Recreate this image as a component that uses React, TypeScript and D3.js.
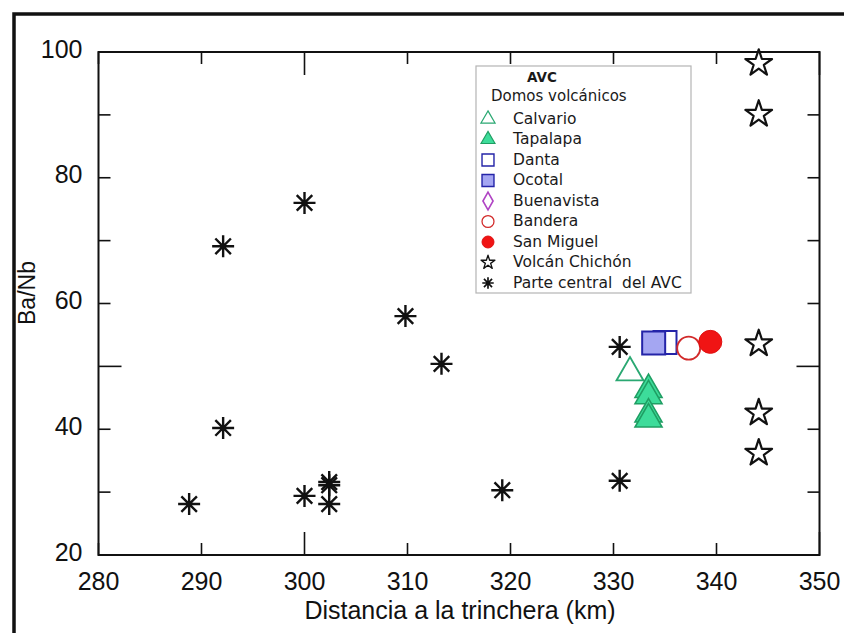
import React from "react";
import * as d3 from "d3";

// ---- data ----
const xTickLabels = [280, 290, 300, 310, 320, 330, 340, 350];
const yTickLabels = [20, 40, 60, 80, 100];

const centralX = [288.8, 292.1, 292.1, 300.0, 300.0, 302.4, 302.4, 302.4, 309.8, 313.3, 319.2, 330.6, 330.6];
const centralY = [28.1, 40.2, 69.1, 76.0, 29.4, 31.6, 31.1, 28.1, 58.0, 50.4, 30.3, 31.8, 53.1];

const chichonX = [344.1, 344.1, 344.1, 344.1, 344.1];
const chichonY = [98.2, 90.1, 53.6, 42.6, 36.2];

const calvarioX = [331.6];
const calvarioY = [49.0];
const tapalapaX = [333.4, 333.4, 333.4, 333.4];
const tapalapaY = [46.3, 45.3, 42.4, 41.6];
const dantaX = [335.0];
const dantaY = [53.8];
const ocotalX = [333.9];
const ocotalY = [53.7];
const buenavistaX: number[] = [];
const buenavistaY: number[] = [];
const banderaX = [337.3];
const banderaY = [52.9];
const sanMiguelX = [339.4];
const sanMiguelY = [53.9];

const legendLabels = [
  "Calvario",
  "Tapalapa",
  "Danta",
  "Ocotal",
  "Buenavista",
  "Bandera",
  "San Miguel",
  "Volcán Chichón",
  "Parte central  del AVC",
];

// ---- layout ----
const W = 844;
const H = 633;
const left = 98.5;
const right = 819.5;
const top = 52;
const bottom = 555;

const x = d3.scaleLinear().domain([280, 350]).range([left, right]);
const y = d3.scaleLinear().domain([20, 100]).range([bottom, top]);

const FONT = "'Liberation Sans', Arial, sans-serif";
const LFONT = "'DejaVu Sans', sans-serif";

type Kind = "triOpen" | "triFill" | "sqOpen" | "sqFill" | "diamond" | "circOpen" | "circFill" | "star" | "ast";

function Marker({ kind, cx, cy, s }: { kind: Kind; cx: number; cy: number; s: number }) {
  const tr = `translate(${cx},${cy})`;
  if (kind === "triOpen" || kind === "triFill") {
    const side = 27 * s;
    const p = d3.symbol().type(d3.symbolTriangle).size((Math.sqrt(3) / 4) * side * side)()!;
    return kind === "triOpen" ? (
      <path d={p} transform={tr} fill="white" fillOpacity={0} stroke="#2aa872" strokeWidth={1.8 * Math.max(s, 0.7)} />
    ) : (
      <path d={p} transform={tr} fill="#3ddc9a" stroke="#1f9e63" strokeWidth={1.6 * Math.max(s, 0.7)} />
    );
  }
  if (kind === "sqOpen" || kind === "sqFill") {
    const side = 23 * s;
    const p = d3.symbol().type(d3.symbolSquare).size(side * side)()!;
    return kind === "sqOpen" ? (
      <path d={p} transform={tr} fill="white" stroke="#2424a8" strokeWidth={2 * Math.max(s, 0.7)} />
    ) : (
      <path d={p} transform={tr} fill="#a4a6f2" stroke="#2424a8" strokeWidth={2 * Math.max(s, 0.7)} />
    );
  }
  if (kind === "diamond") {
    const p = d3.symbol().type(d3.symbolDiamond).size(330 * s * s)()!;
    return <path d={p} transform={tr} fill="white" stroke="#b044c4" strokeWidth={1.6} />;
  }
  if (kind === "circOpen" || kind === "circFill") {
    const r = 11.5 * s;
    const p = d3.symbol().type(d3.symbolCircle).size(Math.PI * r * r)()!;
    return kind === "circOpen" ? (
      <path d={p} transform={tr} fill="white" stroke="#d22a2a" strokeWidth={1.8 * Math.max(s, 0.7)} />
    ) : (
      <path d={p} transform={tr} fill="#f01414" stroke="#e01010" strokeWidth={1} />
    );
  }
  if (kind === "star") {
    const R = 14 * s;
    const p = d3.symbol().type(d3.symbolStar).size((R * R) / 0.8908130915292852)()!;
    return <path d={p} transform={tr} fill="white" stroke="#111" strokeWidth={2.2 * Math.max(s, 0.6)} strokeLinejoin="round" />;
  }
  const r = 11 * s;
  const d2 = r * Math.SQRT1_2;
  const lines = d3.path();
  lines.moveTo(-r, 0); lines.lineTo(r, 0);
  lines.moveTo(0, -r); lines.lineTo(0, r);
  lines.moveTo(-d2, -d2); lines.lineTo(d2, d2);
  lines.moveTo(-d2, d2); lines.lineTo(d2, -d2);
  return (
    <g transform={tr}>
      <path d={lines.toString()} stroke="#111" strokeWidth={2.4 * Math.max(s, 0.7)} fill="none" />
      <circle r={2.6 * s} fill="#111" />
    </g>
  );
}

const legendKinds: Kind[] = ["triOpen", "triFill", "sqOpen", "sqFill", "diamond", "circOpen", "circFill", "star", "ast"];

export default function App() {
  const minorX = d3.range(280, 351, 10);
  const minorY = d3.range(20, 101, 10);
  const isMajor = (v: number) => v % 50 === 0;

  const series: { kind: Kind; xs: number[]; ys: number[] }[] = [
    { kind: "ast", xs: centralX, ys: centralY },
    { kind: "star", xs: chichonX, ys: chichonY },
    { kind: "triOpen", xs: calvarioX, ys: calvarioY },
    { kind: "triFill", xs: tapalapaX, ys: tapalapaY },
    { kind: "sqOpen", xs: dantaX, ys: dantaY },
    { kind: "sqFill", xs: ocotalX, ys: ocotalY },
    { kind: "diamond", xs: buenavistaX, ys: buenavistaY },
    { kind: "circOpen", xs: banderaX, ys: banderaY },
    { kind: "circFill", xs: sanMiguelX, ys: sanMiguelY },
  ];

  const lgX = 476, lgY = 66, lgW = 215, lgH = 227;
  const rowY0 = 119, rowDy = 20.5;

  return (
    <svg width={W} height={H} style={{ position: "absolute", left: 0, top: 0, background: "white" }}>
      <rect x={0} y={0} width={W} height={H} fill="white" />
      <rect x={14} y={14} width={1000} height={1000} fill="none" stroke="#111" strokeWidth={3.5} />

      {minorX.map((v) => {
        const len = isMajor(v) ? 23 : 12;
        return (
          <g key={"tx" + v} stroke="#111" strokeWidth={1.6}>
            <line x1={x(v)} x2={x(v)} y1={bottom} y2={bottom - len} />
            <line x1={x(v)} x2={x(v)} y1={top} y2={top + len} />
          </g>
        );
      })}
      {minorY.map((v) => {
        const len = isMajor(v) ? 23 : 12;
        return (
          <g key={"ty" + v} stroke="#111" strokeWidth={1.6}>
            <line x1={left} x2={left + len} y1={y(v)} y2={y(v)} />
            <line x1={right} x2={right - len} y1={y(v)} y2={y(v)} />
          </g>
        );
      })}
      <rect x={left} y={top} width={right - left} height={bottom - top} fill="none" stroke="#111" strokeWidth={2} />

      {xTickLabels.map((v) => (
        <text key={"lx" + v} x={x(v)} y={bottom + 28} fontFamily={FONT} fontSize={25} textAnchor="middle" dominantBaseline="middle" fill="#111">
          {v}
        </text>
      ))}
      {yTickLabels.map((v) => (
        <text key={"ly" + v} x={left - 16} y={y(v) - 1} fontFamily={FONT} fontSize={25} textAnchor="end" dominantBaseline="middle" fill="#111">
          {v}
        </text>
      ))}
      <text x={(left + right) / 2 + 1} y={612} fontFamily={FONT} fontSize={25} textAnchor="middle" dominantBaseline="middle" fill="#111">
        Distancia a la trinchera (km)
      </text>
      <text transform={`translate(29,293) rotate(-90)`} fontFamily={FONT} fontSize={23} textAnchor="middle" dominantBaseline="middle" fill="#111">
        Ba/Nb
      </text>

      <rect x={lgX} y={lgY} width={lgW} height={lgH} fill="white" stroke="#b4b4b4" strokeWidth={1.2} />
      <text x={542} y={78} fontFamily={LFONT} fontSize={13.5} fontWeight="bold" textAnchor="middle" dominantBaseline="middle" fill="#1a1a1a">
        AVC
      </text>
      <text x={491} y={96} fontFamily={LFONT} fontSize={15} dominantBaseline="middle" fill="#1a1a1a">
        Domos volcánicos
      </text>
      {legendLabels.map((lab, i) => (
        <g key={lab}>
          <Marker kind={legendKinds[i]} cx={488} cy={rowY0 + i * rowDy} s={0.52} />
          <text x={513} y={rowY0 + i * rowDy} fontFamily={LFONT} fontSize={15.5} dominantBaseline="middle" fill="#1a1a1a" style={{ whiteSpace: "pre" }}>
            {lab}
          </text>
        </g>
      ))}

      {series.map((s) =>
        s.xs.map((xv, i) => <Marker key={s.kind + i} kind={s.kind} cx={x(xv)} cy={y(s.ys[i])} s={1} />)
      )}
    </svg>
  );
}
